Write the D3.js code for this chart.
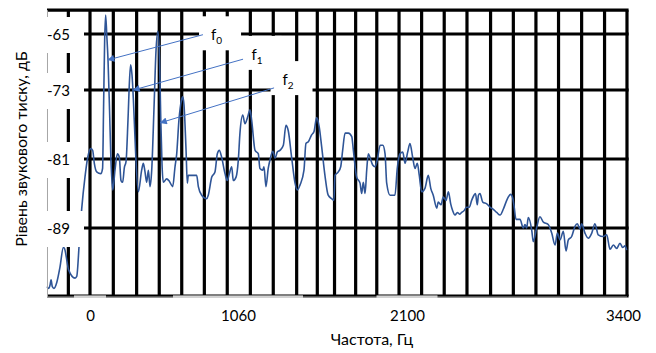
<!DOCTYPE html>
<html>
<head>
<meta charset="utf-8">
<script src="https://cdn.jsdelivr.net/npm/d3@7"></script>
<style>
  body { margin: 0; background: #fff; }
  text { font-family: Lato, "Open Sans", sans-serif; fill: #000; }
</style>
</head>
<body>
<div id="chart"></div>
<script>
// spectrum: frequency (Hz) and level (dB)
const freq = [-308,-297,-286,-279,-270,-258,-238,-215,-191,-183,
  -163,-154,-107,-95,-77,-59,-36,-16,5,19,
  31,48,77,90,97,105,112,120,129,140,
  150,163,179,196,210,222,234,246,258,272,
  283,291,301,311,326,346,370,382,394,406,
  418,430,442,458,473,486,498,507,516,525,
  549,569,592,609,621,637,655,664,673,688,
  697,704,764,776,800,836,847,872,895,912,
  926,943,967,983,998,1015,1026,1046,1062,1072,
  1089,1103,1120,1134,1144,1165,1185,1195,1212,1220,
  1232,1246,1257,1274,1288,1302,1318,1339,1355,1369,
  1390,1411,1425,1442,1466,1478,1493,1513,1528,1544,
  1560,1575,1595,1615,1636,1650,1657,1677,1692,1704,
  1719,1739,1760,1770,1790,1811,1821,1831,1842,1852,
  1862,1872,1889,1903,1917,1935,1951,1965,1975,1996,
  2026,2040,2057,2074,2088,2104,2118,2134,2148,2162,
  2174,2188,2208,2228,2243,2258,2279,2288,2305,2318,
  2335,2349,2363,2375,2389,2403,2416,2429,2443,2459,
  2475,2489,2503,2512,2523,2530,2539,2556,2580,2600,
  2618,2640,2660,2680,2700,2710,2724,2736,2744,2756,
  2780,2800,2810,2820,2830,2851,2860,2881,2900,2920,
  2950,2971,2991,3005,3021,3041,3057,3071,3091,3111,
  3125,3141,3151,3171,3191,3212,3231,3251,3281,3302,
  3322,3342,3362,3382,3398,3412,3422];
const level = [-95.9,-96.1,-95.7,-95.1,-95.9,-96.1,-95.4,-93.6,-91.3,-91.4,
  -93.1,-93.9,-94.9,-94.7,-90.8,-86.7,-83.1,-80.8,-79.8,-80.0,
  -81.5,-82.5,-82.7,-82.1,-75.3,-65.9,-62.3,-65.1,-68.7,-75.3,
  -81.1,-84.6,-82.3,-80.4,-80.8,-83.5,-83.7,-82.0,-81.3,-76.5,
  -71.6,-69.4,-70.9,-74.2,-80.0,-84.8,-82.3,-81.5,-82.5,-83.7,
  -82.3,-84.2,-82.3,-75.3,-67.3,-64.6,-68.7,-76.5,-81.7,-83.7,
  -83.3,-83.6,-84.2,-81.9,-80.4,-76.5,-74.2,-73.8,-74.7,-80.0,
  -83.8,-82.9,-82.9,-84.2,-85.2,-85.6,-85.2,-83.1,-82.5,-80.4,
  -80.0,-80.8,-82.7,-83.5,-82.7,-81.9,-83.5,-83.1,-81.1,-78.0,
  -75.9,-76.9,-76.1,-75.3,-76.5,-80.0,-80.4,-82.1,-82.3,-81.9,
  -84.2,-82.1,-81.1,-80.1,-80.9,-80.2,-80.0,-79.4,-77.1,-77.7,
  -80.8,-83.8,-84.6,-84.0,-82.3,-79.2,-79.0,-78.2,-77.8,-76.2,
  -77.3,-79.6,-82.9,-85.2,-85.6,-85.8,-82.9,-82.5,-81.9,-80.0,
  -78.0,-78.0,-78.4,-80.0,-83.1,-83.8,-85.0,-83.7,-85.0,-82.3,
  -80.4,-80.8,-81.7,-81.9,-81.1,-79.4,-79.4,-80.4,-83.8,-85.2,
  -85.2,-82.1,-80.4,-80.2,-81.5,-80.2,-79.2,-80.8,-82.1,-81.5,
  -82.9,-84.8,-84.4,-82.9,-84.4,-85.2,-86.7,-86.0,-86.3,-85.4,
  -85.8,-84.8,-86.2,-87.0,-87.5,-87.2,-87.4,-87.2,-87.0,-86.6,
  -86.6,-85.8,-85.2,-85.0,-86.3,-85.2,-85.0,-86.0,-86.2,-86.6,
  -86.8,-87.2,-87.5,-86.8,-85.8,-85.4,-85.1,-85.5,-86.4,-88.0,
  -88.0,-89.0,-88.6,-89.0,-87.8,-89.3,-90.6,-88.9,-87.7,-88.3,
  -88.6,-89.6,-91.0,-89.6,-90.4,-89.4,-91.7,-90.4,-90.0,-88.8,
  -88.5,-89.1,-88.5,-89.6,-90.2,-89.6,-88.5,-89.8,-90.0,-89.8,
  -91.5,-91.0,-91.4,-90.8,-91.3,-91.1,-91.6];

const freqTicks = [0, 1060, 2100, 3400];
const levelTicks = [-65, -73, -81, -89];
const freqLimits = [-308, 3424];
const levelLimits = [-97, -61.6];
// vertical grid lines (Hz)
const gridFreq = [-155, 0, 167, 334, 496, 657, 819, 983, 1136, 1277, 1421, 1548,
  1654, 1784, 1914, 2051, 2188, 2324, 2461, 2603, 2740, 2876, 3012, 3151, 3289];

// harmonic markers
const annoNames = ['0', '1', '2'];
const annoTipFreq = [129, 311, 505];
const annoTipLevel = [-68.7, -73.0, -76.8];
const annoTailFreq = [809, 1091, 1282];
const annoTailLevel = [-65.1, -68.6, -72.7];
const annoTextFreq = [867, 1143, 1334];
const annoTextLevel = [-65.9, -68.7, -72.3];

const width = 656, height = 353;
const svg = d3.select('#chart').append('svg')
  .attr('width', width).attr('height', height);

const x = d3.scaleLinear().domain(freqTicks).range([90, 238, 407, 623]);
const y = d3.scaleLinear().domain([-97, -89, -81, -73, -65]).range([296, 228, 159, 90, 34]);

const pLeft = x(freqLimits[0]), pRight = x(freqLimits[1]);
const pTop = y(levelLimits[1]), pBottom = y(levelLimits[0]);

// black grid
var grid = svg.append('g').attr('stroke', '#000').attr('stroke-width', 3.2);
grid.selectAll('.v').data(gridFreq.concat([freqLimits[1]])).enter().append('line')
  .attr('class', 'v')
  .attr('x1', d => x(d)).attr('x2', d => x(d))
  .attr('y1', pTop).attr('y2', pBottom);
grid.selectAll('.h').data(levelTicks.concat(levelLimits)).enter().append('line')
  .attr('class', 'h')
  .attr('x1', pLeft).attr('x2', pRight + 1.6)
  .attr('y1', d => y(d)).attr('y2', d => y(d));

// spectrum
var line = d3.line()
  .x((d, i) => x(freq[i]))
  .y(d => y(d))
  .curve(d3.curveMonotoneX);
svg.append('path').datum(level)
  .attr('d', line)
  .attr('fill', 'none')
  .attr('stroke', '#2f5597')
  .attr('stroke-width', 1.6)
  .attr('stroke-linejoin', 'round');

// label boxes on the x axis
const xBoxW = [32, 130, 61, 0];
svg.append('g').selectAll('rect').data(freqTicks).enter().append('rect')
  .attr('x', (d, i) => x(d) - xBoxW[i] / 2).attr('width', (d, i) => xBoxW[i])
  .attr('y', pBottom - 0.5).attr('height', 34)
  .attr('fill', '#fff');

// thin value axes
svg.append('line').attr('x1', pLeft).attr('x2', pRight).attr('y1', pBottom + 1).attr('y2', pBottom + 1)
  .attr('stroke', '#a6a6a6').attr('stroke-width', 1);
svg.append('line').attr('x1', pLeft + 0.5).attr('x2', pLeft + 0.5).attr('y1', pTop).attr('y2', pBottom + 1.5)
  .attr('stroke', '#a6a6a6').attr('stroke-width', 1);

// label boxes on the y axis
svg.append('g').selectAll('rect').data(levelTicks).enter().append('rect')
  .attr('x', pLeft - 2).attr('width', 84 - pLeft + 2)
  .attr('y', d => y(d) - 17).attr('height', 36)
  .attr('fill', '#fff');

var xAxis = d3.axisBottom(x).tickValues(freqTicks).tickSize(0).tickPadding(14)
  .tickFormat(d => String(d));
svg.append('g').attr('transform', 'translate(0,' + pBottom + ')').call(xAxis)
  .call(g => g.select('.domain').remove())
  .selectAll('text').style('font-size', '15px').style('font-family', 'Lato, sans-serif').attr('fill', '#000');

var yAxis = d3.axisLeft(y).tickValues(levelTicks).tickSize(0).tickPadding(0)
  .tickFormat(d => String(d));
svg.append('g').attr('transform', 'translate(70,1)').call(yAxis)
  .call(g => g.select('.domain').remove())
  .selectAll('text').style('font-size', '15px').style('font-family', 'Lato, sans-serif').attr('fill', '#000');

// axis titles
svg.append('text').attr('x', 372).attr('y', 345).attr('text-anchor', 'middle')
  .style('font-size', '16px').text('Частота, Гц');
svg.append('text').attr('transform', 'translate(27,149) rotate(-90)').attr('text-anchor', 'middle')
  .style('font-size', '16px').text('Рівень звукового тиску, дБ');

// annotations
svg.append('defs').append('marker')
  .attr('id', 'ah').attr('viewBox', '0 0 10 10').attr('refX', 9).attr('refY', 5)
  .attr('markerWidth', 10).attr('markerHeight', 7).attr('markerUnits', 'userSpaceOnUse')
  .attr('orient', 'auto')
  .append('path').attr('d', 'M0,0L10,5L0,10z').attr('fill', '#4472c4');

var anno = svg.append('g').selectAll('g').data(annoNames).enter().append('g');
anno.append('rect')
  .attr('x', (d, i) => x(annoTextFreq[i]) - 12).attr('y', (d, i) => y(annoTextLevel[i]) - 24)
  .attr('width', 42).attr('height', 34).attr('fill', '#fff');
anno.append('line')
  .attr('x1', (d, i) => x(annoTailFreq[i])).attr('y1', (d, i) => y(annoTailLevel[i]))
  .attr('x2', (d, i) => x(annoTipFreq[i])).attr('y2', (d, i) => y(annoTipLevel[i]))
  .attr('stroke', '#4472c4').attr('stroke-width', 1)
  .attr('marker-end', 'url(#ah)');
var lbl = anno.append('text')
  .attr('x', (d, i) => x(annoTextFreq[i])).attr('y', (d, i) => y(annoTextLevel[i]))
  .style('font-size', '15px');
lbl.append('tspan').text('f');
lbl.append('tspan').attr('dy', 4).style('font-size', '10px').text(d => d);
</script>
</body>
</html>
